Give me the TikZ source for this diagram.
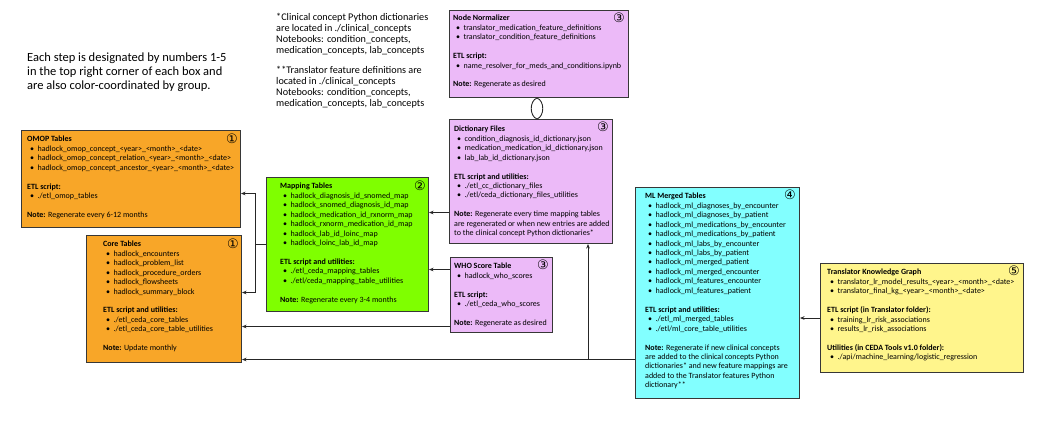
\documentclass[tikz,border=0pt]{standalone}
\usepackage{fontspec}
\setmainfont{Carlito}
\newfontfamily\symfont{DejaVu Sans}
\usetikzlibrary{arrows.meta,calc}
\definecolor{omopc}{RGB}{248,166,40}
\definecolor{mapc}{RGB}{127,255,0}
\definecolor{dictc}{RGB}{236,186,248}
\definecolor{mlc}{RGB}{130,255,255}
\definecolor{trc}{RGB}{255,245,140}
\definecolor{edgec}{RGB}{55,55,55}
\newcommand\bl{\hspace*{3pt}\textbullet\hspace{3.5pt}}
\newcommand\gap{\mbox{}}
\begin{document}
\begin{tikzpicture}[x=1pt,y=-1pt,
  box/.style={draw=edgec, line width=1pt, inner sep=0pt, anchor=north west},
  txt/.style={inner sep=0pt, align=left, anchor=north west, font={\fontsize{8}{9.45}\selectfont}},
  num/.style={inner sep=0pt, anchor=north east, font={\symfont\fontsize{13}{13}\selectfont}},
  conn/.style={draw=black!85, line width=0.9pt},
  arr/.style={conn, -{Stealth[length=4.5pt,width=3.6pt]}}]
\useasboundingbox (0,0) rectangle (1046,432);

% free texts
\node[inner sep=0pt, align=left, anchor=north west, font={\fontsize{12.5}{14}\selectfont}] (legend) at (27,53)
{Each step is designated by numbers 1-5\\in the top right corner of each box and\\are also color-coordinated by group.};
\node[inner sep=0pt, align=left, anchor=north west, font={\fontsize{10.2}{11}\selectfont}] (notes) at (276,13)
{*Clinical concept Python dictionaries\\are located in ./clinical\_concepts\\Notebooks: condition\_concepts,\\medication\_concepts, lab\_concepts\\[9pt]**Translator feature definitions are\\located in ./clinical\_concepts\\Notebooks: condition\_concepts,\\medication\_concepts, lab\_concepts};

% OMOP
\node[box, fill=omopc, minimum width=219pt, minimum height=97pt] (omop) at (21,130) {};
\node[txt] (omopT) at ([shift={(6,6)}]omop.north west)
{\textbf{OMOP Tables}\\
\bl hadlock\_omop\_concept\_<year>\_<month>\_<date>\\
\bl hadlock\_omop\_concept\_relation\_<year>\_<month>\_<date>\\
\bl hadlock\_omop\_concept\_ancestor\_<year>\_<month>\_<date>\\ \gap\\
\textbf{ETL script:}\\
\bl ./etl\_omop\_tables\\ \gap\\
\textbf{Note:} Regenerate every 6-12 months};
\node[num] (omopN) at ([shift={(-3,4)}]omop.north east) {①};

% Core
\node[box, fill=omopc, minimum width=155pt, minimum height=127pt] (core) at (86,235) {};
\node[txt] (coreT) at ([shift={(17,6)}]core.north west)
{\textbf{Core Tables}\\
\bl hadlock\_encounters\\
\bl hadlock\_problem\_list\\
\bl hadlock\_procedure\_orders\\
\bl hadlock\_flowsheets\\
\bl hadlock\_summary\_block\\ \gap\\
\textbf{ETL script and utilities:}\\
\bl ./etl\_ceda\_core\_tables\\
\bl ./etl\_ceda\_core\_table\_utilities\\ \gap\\
\textbf{Note:} Update monthly};
\node[num] (coreN) at ([shift={(-3,4)}]core.north east) {①};

% Mapping
\node[box, fill=mapc, minimum width=162pt, minimum height=134pt] (map) at (266,177) {};
\node[txt] (mapT) at ([shift={(14,6)}]map.north west)
{\textbf{Mapping Tables}\\
\bl hadlock\_diagnosis\_id\_snomed\_map\\
\bl hadlock\_snomed\_diagnosis\_id\_map\\
\bl hadlock\_medication\_id\_rxnorm\_map\\
\bl hadlock\_rxnorm\_medication\_id\_map\\
\bl hadlock\_lab\_id\_loinc\_map\\
\bl hadlock\_loinc\_lab\_id\_map\\ \gap\\
\textbf{ETL script and utilities:}\\
\bl ./etl\_ceda\_mapping\_tables\\
\bl ./etl/ceda\_mapping\_table\_utilities\\ \gap\\
\textbf{Note:} Regenerate every 3-4 months};
\node[num] (mapN) at ([shift={(-3,4)}]map.north east) {②};

% Node Normalizer
\node[box, fill=dictc, minimum width=179pt, minimum height=87pt] (nn) at (449,10) {};
\node[txt] (nnT) at ([shift={(4,5)}]nn.north west)
{\textbf{Node Normalizer}\\
\bl translator\_medication\_feature\_definitions\\
\bl translator\_condition\_feature\_definitions\\ \gap\\
\textbf{ETL script:}\\
\bl name\_resolver\_for\_meds\_and\_conditions.ipynb\\ \gap\\
\textbf{Note:} Regenerate as desired};
\node[num] (nnN) at ([shift={(-4,3)}]nn.north east) {③};

% Dictionary Files
\node[box, fill=dictc, minimum width=163pt, minimum height=124pt] (dict) at (449,119) {};
\node[txt] (dictT) at ([shift={(5,7)}]dict.north west)
{\textbf{Dictionary Files}\\
\bl condition\_diagnosis\_id\_dictionary.json\\
\bl medication\_medication\_id\_dictionary.json\\
\bl lab\_lab\_id\_dictionary.json\\ \gap\\
\textbf{ETL script and utilities:}\\
\bl ./etl\_cc\_dictionary\_files\\
\bl ./etl/ceda\_dictionary\_files\_utilities\\ \gap\\
\textbf{Note:} Regenerate every time mapping tables\\
are regenerated or when new entries are added\\
to the clinical concept Python dictionaries*};
\node[num] (dictN) at ([shift={(-4,3)}]dict.north east) {③};

% WHO
\node[box, fill=dictc, minimum width=102pt, minimum height=75pt] (who) at (450,257) {};
\node[txt] (whoT) at ([shift={(4,6)}]who.north west)
{\textbf{WHO Score Table}\\
\bl hadlock\_who\_scores\\ \gap\\
\textbf{ETL script:}\\
\bl ./etl\_ceda\_who\_scores\\ \gap\\
\textbf{Note:} Regenerate as desired};
\node[num] (whoN) at ([shift={(-4,3)}]who.north east) {③};

% ML
\node[box, fill=mlc, minimum width=164pt, minimum height=211pt] (ml) at (635,187) {};
\node[txt] (mlT) at ([shift={(10,6)}]ml.north west)
{\textbf{ML Merged Tables}\\
\bl hadlock\_ml\_diagnoses\_by\_encounter\\
\bl hadlock\_ml\_diagnoses\_by\_patient\\
\bl hadlock\_ml\_medications\_by\_encounter\\
\bl hadlock\_ml\_medications\_by\_patient\\
\bl hadlock\_ml\_labs\_by\_encounter\\
\bl hadlock\_ml\_labs\_by\_patient\\
\bl hadlock\_ml\_merged\_patient\\
\bl hadlock\_ml\_merged\_encounter\\
\bl hadlock\_ml\_features\_encounter\\
\bl hadlock\_ml\_features\_patient\\ \gap\\
\textbf{ETL script and utilities:}\\
\bl ./etl\_ml\_merged\_tables\\
\bl ./etl/ml\_core\_table\_utilities\\ \gap\\
\textbf{Note:} Regenerate if new clinical concepts\\
are added to the clinical concepts Python\\
dictionaries* and new feature mappings are\\
added to the Translator features Python\\
dictionary**};
\node[num] (mlN) at ([shift={(-4,3)}]ml.north east) {④};

% Translator
\node[box, fill=trc, minimum width=203pt, minimum height=109pt] (tr) at (820,263) {};
\node[txt] (trT) at ([shift={(7,6)}]tr.north west)
{\textbf{Translator Knowledge Graph}\\
\bl translator\_lr\_model\_results\_<year>\_<month>\_<date>\\
\bl translator\_final\_kg\_<year>\_<month>\_<date>\\ \gap\\
\textbf{ETL script (in Translator folder):}\\
\bl training\_lr\_risk\_associations\\
\bl results\_lr\_risk\_associations\\ \gap\\
\textbf{Utilities (in CEDA Tools v1.0 folder):}\\
\bl ./api/machine\_learning/logistic\_regression};
\node[num] (trN) at ([shift={(-4,3)}]tr.north east) {⑤};

% connectors
\draw[conn] (map.west) -- ([shift={(-11,0)}]map.west) coordinate (jn);
\draw[arr] (jn) |- ([shift={(0,14.5)}]omop.east);
\draw[arr] (jn) |- ([shift={(0,-6.5)}]core.east);
\draw[arr] ([shift={(0,31)}]dict.west) coordinate (d1) -- (d1 -| map.east);
\draw[arr] ([shift={(0,-25.5)}]who.west) coordinate (w1) -- (w1 -| map.east);
\draw[arr] ([shift={(0,31.5)}]who.west) coordinate (w2) -- (w2 -| core.east);
\draw[arr] ([shift={(0,66.5)}]ml.west) coordinate (m1) -- (m1 -| core.east);
\coordinate (db) at ([shift={(-25,0)}]dict.south east);
\draw[arr] (m1 -| db) -- (db);
\draw[arr] (tr.west) -- (tr.west -| ml.east);
\coordinate (o1) at ([shift={(88,0)}]nn.south west);
\coordinate (o2) at ([shift={(88,0)}]dict.north west);
\draw[conn] (o1) to[bend left=70] (o2);
\draw[conn] (o2) to[bend left=70] (o1);
\end{tikzpicture}
\end{document}
